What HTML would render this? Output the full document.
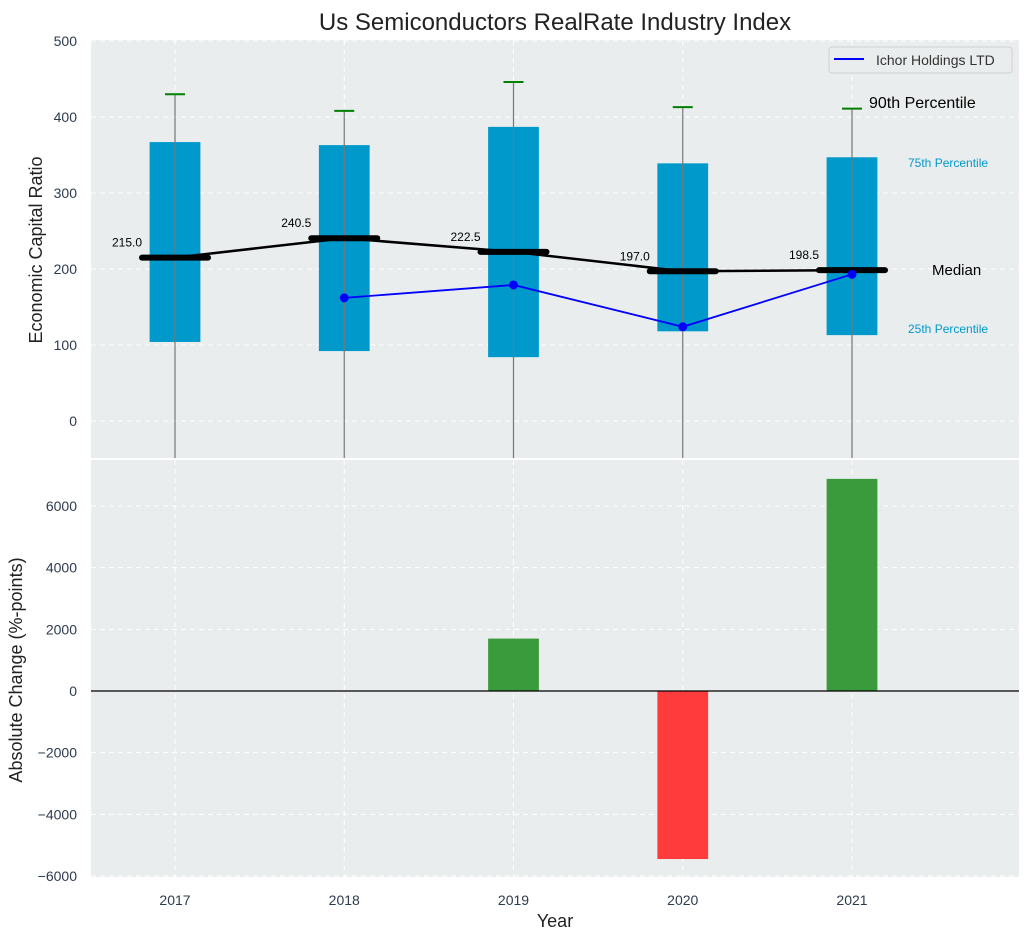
<!DOCTYPE html>
<html><head><meta charset="utf-8"><style>
body{margin:0;background:#fff;font-family:"Liberation Sans",sans-serif}
svg{display:block}
</style></head><body>
<svg id="c" width="1029" height="940" xmlns="http://www.w3.org/2000/svg"></svg>
<script>
const years=[2017,2018,2019,2020,2021];
const p10=[-100,-100,-100,-100,-100];
const p25=[104,92,84,118,113];
const p75=[367,363,387,339,347];
const p90=[430,408,446,413,411];
const medians=[215.0,240.5,222.5,197.0,198.5];
const ichorYears=[2018,2019,2020,2021];
const ichorVals=[162,179,124,193];
const changeYears=[2019,2020,2021];
const changeVals=[1700,-5450,6880];
const topTicks=[0,100,200,300,400,500];
const botTicks=[-6000,-4000,-2000,0,2000,4000,6000];

const NS="http://www.w3.org/2000/svg";
const svg=document.getElementById('c');
function el(t,a,txt,name,parent){const e=document.createElementNS(NS,t);for(const k in a)e.setAttribute(k,a[k]);if(txt!==undefined&&txt!==null)e.textContent=txt;


(parent||svg).appendChild(e);return e;}
const L=91,R=1019;
const x=v=>175+(v-2017)*169.25;
const yT=v=>421-v*0.76;
const yB=v=>691-v*(185/6000);
el('rect',{x:L,y:40,width:R-L,height:418,fill:'#eaeded'},null,'top-panel');
el('rect',{x:L,y:460,width:R-L,height:417,fill:'#eaeded'},null,'bottom-panel');
const gT=el('g',{},null,'top-grid'),gB=el('g',{},null,'bottom-grid');
topTicks.forEach(t=>{el('line',{x1:L,x2:R,y1:yT(t),y2:yT(t),stroke:'#fff','stroke-dasharray':'5,4'},null,'grid-line',gT);
el('text',{x:L-14,y:yT(t)+5,'text-anchor':'end','font-size':14,fill:'#2d3b4e'},t,'y-tick-label');});
botTicks.forEach(t=>{el('line',{x1:L,x2:R,y1:yB(t),y2:yB(t),stroke:'#fff','stroke-dasharray':'5,4'},null,'grid-line',gB);
el('text',{x:L-14,y:yB(t)+5,'text-anchor':'end','font-size':14,fill:'#2d3b4e'},String(t).replace('-','\u2212'),'y-tick-label');});
years.forEach(yr=>{el('line',{x1:x(yr),x2:x(yr),y1:40,y2:458,stroke:'#fff','stroke-dasharray':'5,4'},null,'grid-line',gT);
el('line',{x1:x(yr),x2:x(yr),y1:460,y2:877,stroke:'#fff','stroke-dasharray':'5,4'},null,'grid-line',gB);
el('text',{x:x(yr),y:905,'text-anchor':'middle','font-size':14,fill:'#2d3b4e'},yr,'x-tick-label');});
const defs=el('defs',{},null,'defs');
const cp=el('clipPath',{id:'cpT'},null,'clip',defs);el('rect',{x:L,y:40,width:R-L,height:418},null,'clip-rect',cp);
const gbox=el('g',{'clip-path':'url(#cpT)'},null,'box-group');
const bw=0.3;
years.forEach((yr,i)=>{
 el('rect',{x:x(yr-bw/2),y:yT(p75[i]),width:x(yr+bw/2)-x(yr-bw/2),height:yT(p25[i])-yT(p75[i]),fill:'#0099cc'},null,'box-'+yr,gbox);
 el('line',{x1:x(yr),x2:x(yr),y1:yT(p90[i]),y2:yT(p10[i]),stroke:'#777','stroke-width':1.2},null,'whisker-'+yr,gbox);
 el('line',{x1:x(yr)-10,x2:x(yr)+10,y1:yT(p90[i]),y2:yT(p90[i]),stroke:'#008000','stroke-width':2},null,'p90-cap-'+yr,gbox);
});
el('polyline',{points:years.map((yr,i)=>x(yr)+','+yT(medians[i])).join(' '),fill:'none',stroke:'#000','stroke-width':2.5},null,'median-line',gbox);
years.forEach((yr,i)=>{
 el('line',{x1:x(yr)-33,x2:x(yr)+33,y1:yT(medians[i]),y2:yT(medians[i]),stroke:'#000','stroke-width':6,'stroke-linecap':'round'},null,'median-bar-'+yr,gbox);
 el('text',{x:x(yr)-48,y:yT(medians[i])-11,'text-anchor':'middle','font-size':12,fill:'#000'},medians[i].toFixed(1),'median-label');
});
el('polyline',{points:ichorYears.map((yr,i)=>x(yr)+','+yT(ichorVals[i])).join(' '),fill:'none',stroke:'#0000ff','stroke-width':1.8},null,'ichor-line',gbox);
ichorYears.forEach((yr,i)=>el('circle',{cx:x(yr),cy:yT(ichorVals[i]),r:4.5,fill:'#0000ff'},null,'ichor-point',gbox));
el('text',{x:869,y:108,'font-size':16,fill:'#000'},'90th Percentile','p90-annotation');
el('text',{x:908,y:167,'font-size':12,fill:'#0099cc'},'75th Percentile','p75-annotation');
el('text',{x:932,y:275,'font-size':15,fill:'#000'},'Median','median-annotation');
el('text',{x:908,y:333,'font-size':12,fill:'#0099cc'},'25th Percentile','p25-annotation');
const lg=el('g',{},null,'legend');
el('rect',{x:829,y:47,width:183,height:26,rx:3,fill:'#eaeded',stroke:'#d0d0d0'},null,'legend-box',lg);
el('line',{x1:834,x2:864,y1:59,y2:59,stroke:'#0000ff','stroke-width':2},null,'legend-line',lg);
el('text',{x:876,y:65,'font-size':14,fill:'#333'},'Ichor Holdings LTD','legend-entry',lg);
const gbar=el('g',{},null,'change-bars');
changeYears.forEach((yr,i)=>{const v=changeVals[i];
 el('rect',{x:x(yr-0.15),y:Math.min(yB(v),yB(0)),width:x(yr+0.15)-x(yr-0.15),height:Math.abs(yB(v)-yB(0)),fill:v>=0?'#3a9b3c':'#ff3b3b'},null,'bar-'+yr,gbar);});
el('line',{x1:L,x2:R,y1:yB(0),y2:yB(0),stroke:'#000','stroke-width':1.2},null,'zero-line');
el('text',{x:555,y:30,'text-anchor':'middle','font-size':24,fill:'#222'},'Us Semiconductors RealRate Industry Index','chart-title');
el('text',{x:42,y:250,'text-anchor':'middle','font-size':18,fill:'#222',transform:'rotate(-90 42 250)'},'Economic Capital Ratio','top-y-axis-title');
el('text',{x:22,y:670,'text-anchor':'middle','font-size':18,fill:'#222',transform:'rotate(-90 22 670)'},'Absolute Change (%-points)','bottom-y-axis-title');
el('text',{x:555,y:927,'text-anchor':'middle','font-size':18,fill:'#222'},'Year','x-axis-title');
</script>
</body></html>
